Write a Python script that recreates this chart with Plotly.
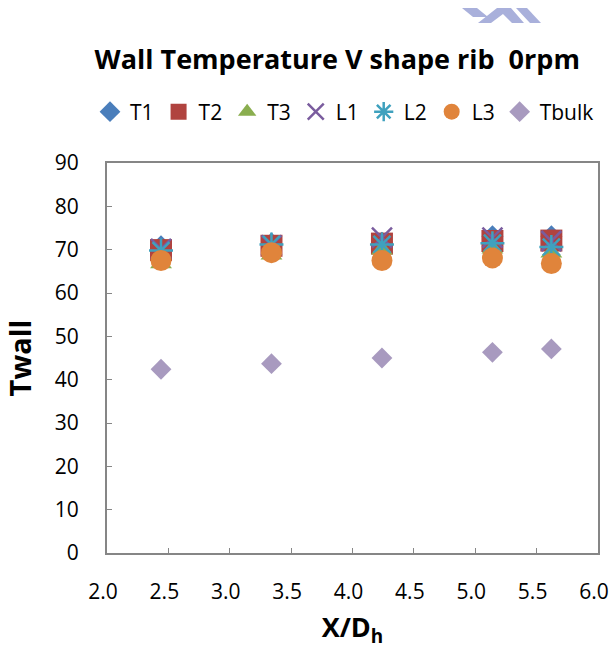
import plotly.graph_objects as go

# ---- data ----
x_pos = [2.44, 3.34, 4.24, 5.14, 5.62]
T1 = [70.8, 71.4, 71.6, 73.1, 73.1]
T2 = [69.9, 70.9, 71.4, 72.0, 72.1]
T3 = [66.8, 68.8, 70.0, 70.2, 69.3]
L1 = [70.2, 71.0, 72.8, 72.8, 72.0]
L2 = [69.8, 71.2, 71.2, 71.5, 70.6]
L3 = [67.5, 69.3, 67.5, 68.1, 66.8]
Tbulk = [42.4, 43.7, 45.0, 46.3, 47.1]

x_ticks = [2.0, 2.5, 3.0, 3.5, 4.0, 4.5, 5.0, 5.5, 6.0]
y_ticks = [0, 10, 20, 30, 40, 50, 60, 70, 80, 90]

series = [
    ("T1", T1, dict(symbol="diamond", size=17, color="#4A7EBB")),
    ("T2", T2, dict(symbol="square", size=22, color="#B0433F")),
    ("T3", T3, dict(symbol="triangle-up", size=19, color="#8AAE4F")),
    ("L1", L1, dict(symbol="x-thin-open", size=20, color="#7A5C9E", line=dict(color="#7A5C9E", width=2.5))),
    ("L2", L2, dict(symbol="asterisk-open", size=20, color="#3FA1BE", line=dict(color="#3FA1BE", width=2.5))),
    ("L3", L3, dict(symbol="circle", size=21, color="#E0843B")),
    ("Tbulk", Tbulk, dict(symbol="diamond", size=16, color="#A89ABF")),
]

fig = go.Figure()
for name, vals, mk in series:
    fig.add_trace(go.Scatter(x=x_pos, y=vals, mode="markers", name=name, marker=mk))

FONT = "Open Sans"
L, R, T, B = 107, 13, 163, 96
PW, PH = 611 - L - R, 649 - T - B

fig.update_layout(
    width=611, height=649,
    margin=dict(l=L, r=R, t=T, b=B, autoexpand=False),
    paper_bgcolor="white", plot_bgcolor="white",
    font=dict(family=FONT, color="black"),
    title=dict(text="<b>Wall Temperature V shape rib  0rpm</b>",
               x=0.552, xanchor="center", y=1 - 60 / 649, yanchor="middle",
               font=dict(size=27, family=FONT, color="black")),
    legend=dict(orientation="h", x=(90 - L) / PW, xanchor="left",
                y=(649 - B - 112) / PH, yref="paper", yanchor="middle",
                font=dict(size=21, family=FONT, color="black"),
                itemwidth=30, tracegroupgap=0, bgcolor="rgba(0,0,0,0)"),
    showlegend=True,
)

axis_common = dict(
    showgrid=False, zeroline=False, showline=True, linecolor="#868686", linewidth=2,
    mirror=True, ticks="inside", ticklen=5, tickcolor="#868686", tickwidth=1,
    tickfont=dict(size=21, family=FONT, color="black"), automargin=False,
    ticklabeloverflow="allow",
)

fig.update_xaxes(
    range=[2.0, 6.0], tickvals=x_ticks, ticktext=[f"{v:.1f}" for v in x_ticks],
    ticklabelstandoff=19, ticklabelshift=-4,
    title=dict(text="<b>X/D<sub>h</sub></b>", font=dict(size=27, family=FONT, color="black"),
               standoff=26),
    **axis_common,
)
fig.update_yaxes(
    range=[0, 90], tickvals=y_ticks, ticklabelstandoff=22,
    title=dict(text="<b>Twall</b>", font=dict(size=29, family=FONT, color="black"),
               standoff=23),
    **axis_common,
)

# small decorative fragment at top right (pixel coords converted to paper)
def px(xp, yp):
    return (xp - L) / PW, (649 - B - yp) / PH


def poly(points):
    pts = [px(a, b) for a, b in points]
    return "M " + " L ".join(f"{a:.4f},{b:.4f}" for a, b in pts) + " Z"


deco = [
    [(462, 8), (477, 8), (488, 17), (473, 17)],
    [(478, 23), (497, 8), (511, 8), (524, 23), (512, 23), (503, 14), (491, 23)],
    [(516, 8), (527, 8), (541, 23), (530, 23)],
]
for p in deco:
    fig.add_shape(type="path", path=poly(p), xref="paper", yref="paper",
                  fillcolor="#A9B0DB", line=dict(width=0), layer="above")

fig.write_html("out.html")
